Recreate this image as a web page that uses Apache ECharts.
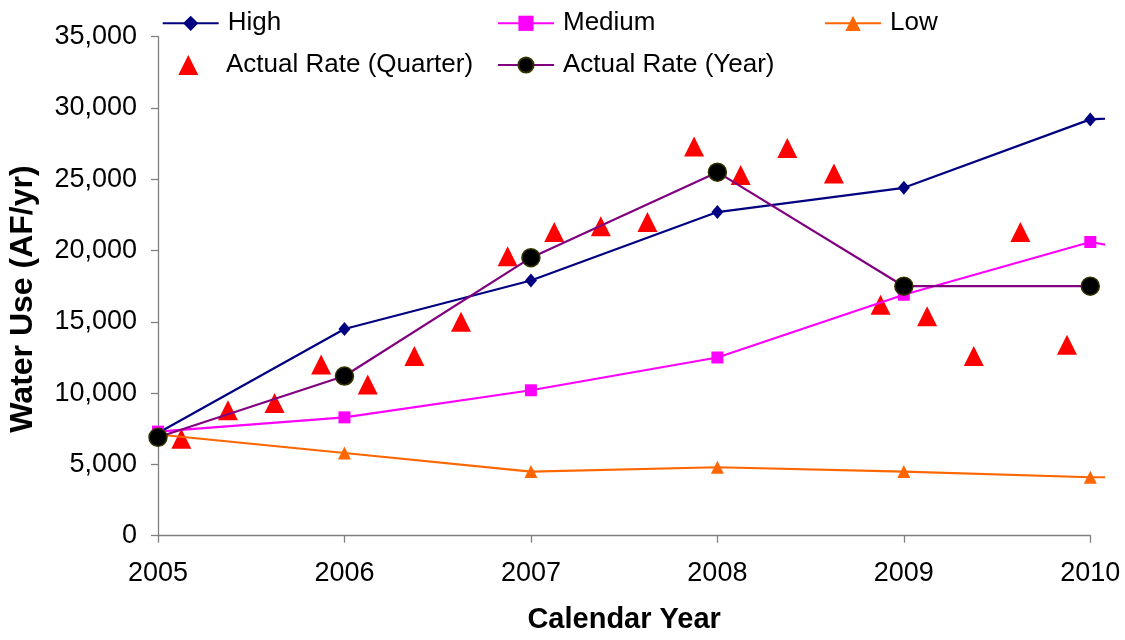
<!DOCTYPE html>
<html>
<head>
<meta charset="utf-8">
<script src="https://cdn.jsdelivr.net/npm/echarts@6/dist/echarts.min.js"></script>
<style>html,body{margin:0;padding:0;background:#fff;}#chart{width:1125px;height:640px;}</style>
</head>
<body>
<div id="chart"></div>
<script>
// ---- data ----
var years = [2005, 2006, 2007, 2008, 2009, 2010, 2011];
var high = [7200, 14500, 17900, 22700, 24400, 29200, 29900];
var medium = [7300, 8300, 10200, 12500, 16900, 20600, 18200];
var low = [7100, 5800, 4500, 4800, 4500, 4100, 4100];
var actualYearX = [2005, 2006, 2007, 2008, 2009, 2010];
var actualYear = [6900, 11200, 19500, 25500, 17500, 17500];
var quarterX = [2005.125, 2005.375, 2005.625, 2005.875,
                2006.125, 2006.375, 2006.625, 2006.875,
                2007.125, 2007.375, 2007.625, 2007.875,
                2008.125, 2008.375, 2008.625, 2008.875,
                2009.125, 2009.375, 2009.625, 2009.875];
var quarterVals = [6800, 8800, 9300, 12000,
                   10600, 12600, 15000, 19600,
                   21300, 21700, 22000, 27300,
                   25300, 27200, 25400, 16200,
                   15400, 12600, 21300, 13400];
var xTicks = [2005, 2006, 2007, 2008, 2009, 2010];
var yMin = 0, yMax = 35000, yStep = 5000;
var names = ['High', 'Medium', 'Low', 'Actual Rate (Quarter)', 'Actual Rate (Year)'];

function pairs(xs, ys) { return xs.map(function (x, i) { return [x, ys[i]]; }); }

var FONT = '"Liberation Sans", Arial, sans-serif';
var AXIS_COLOR = '#808080';
var plotLeft = 158, plotTop = 36.7, plotBottom = 640 - 535.7;
var axisRightPx = 1090.3, dataRightPx = 1103;
var extMax = xTicks[0] + (xTicks[xTicks.length - 1] - xTicks[0]) * (dataRightPx - plotLeft) / (axisRightPx - plotLeft);

var chart = echarts.init(document.getElementById('chart'), null, {renderer: 'canvas'});

function legendItem(name, left, top, iw, ih, padLeft) {
  return {
    data: [name], left: left, top: top, orient: 'horizontal', padding: 0,
    itemWidth: iw, itemHeight: ih, selectedMode: false, symbolKeepAspect: true,
    textStyle: {fontFamily: FONT, fontSize: 26, color: '#000', padding: [0, 0, 0, padLeft]}
  };
}

var option = {
  backgroundColor: '#fff',
  animation: false,
  legend: [
    legendItem(names[0], 161.7, 10.3, 56, 19, 4),
    legendItem(names[1], 497, 10.3, 56, 19, 4),
    legendItem(names[2], 824, 10.3, 56, 19, 4),
    legendItem(names[3], 178.3, 52, 20, 20, 22.7),
    legendItem(names[4], 497, 52, 56, 19, 4)
  ],
  grid: [
    {left: plotLeft, right: 1125 - dataRightPx, top: plotTop, bottom: plotBottom, containLabel: false},
    {left: plotLeft, right: 1125 - axisRightPx, top: plotTop, bottom: plotBottom, containLabel: false}
  ],
  xAxis: [
    {type: 'value', gridIndex: 0, min: xTicks[0], max: extMax, show: false},
    {type: 'value', gridIndex: 1, min: xTicks[0], max: xTicks[xTicks.length - 1], interval: 1,
     name: 'Calendar Year', nameLocation: 'middle', nameGap: 70,
     nameTextStyle: {fontFamily: FONT, fontSize: 29, fontWeight: 'bold', color: '#000'},
     axisLine: {show: true, lineStyle: {color: AXIS_COLOR, width: 1.3}},
     axisTick: {show: true, inside: false, length: 7, lineStyle: {color: AXIS_COLOR, width: 1.3}},
     axisLabel: {fontFamily: FONT, fontSize: 27, color: '#000', margin: 24,
                 formatter: function (v) { return String(v); }},
     splitLine: {show: false}}
  ],
  yAxis: [
    {type: 'value', gridIndex: 0, min: yMin, max: yMax, interval: yStep,
     axisLine: {show: true, lineStyle: {color: AXIS_COLOR, width: 1.3}},
     axisTick: {show: true, inside: false, length: 7, lineStyle: {color: AXIS_COLOR, width: 1.3}},
     axisLabel: {fontFamily: FONT, fontSize: 27, color: '#000', margin: 21,
                 formatter: function (v) { return String(v).replace(/\B(?=(\d{3})+(?!\d))/g, ','); }},
     splitLine: {show: false}},
    {type: 'value', gridIndex: 1, min: yMin, max: yMax, interval: yStep, show: false}
  ],
  graphic: [{
    type: 'text', x: 23, y: 299, rotation: Math.PI / 2,
    style: {text: 'Water Use (AF/yr)', align: 'center', verticalAlign: 'middle',
            font: 'bold 32px ' + FONT, fill: '#000'}
  }],
  series: [
    {name: names[0], type: 'line', xAxisIndex: 0, yAxisIndex: 0, data: pairs(years, high),
     symbol: 'diamond', symbolSize: [12, 14], clip: true,
     lineStyle: {color: '#000080', width: 2.2}, itemStyle: {color: '#000080'}},
    {name: names[1], type: 'line', xAxisIndex: 0, yAxisIndex: 0, data: pairs(years, medium),
     symbol: 'rect', symbolSize: 12, clip: true,
     lineStyle: {color: '#FF00FF', width: 2.2}, itemStyle: {color: '#FF00FF'}},
    {name: names[2], type: 'line', xAxisIndex: 0, yAxisIndex: 0, data: pairs(years, low),
     symbol: 'triangle', symbolSize: 13, clip: true,
     lineStyle: {color: '#FF6600', width: 2.2}, itemStyle: {color: '#FF6600'}},
    {name: names[3], type: 'scatter', xAxisIndex: 0, yAxisIndex: 0, data: pairs(quarterX, quarterVals),
     symbol: 'triangle', symbolSize: 20, itemStyle: {color: '#FF0000', opacity: 1}},
    {name: names[4], type: 'line', xAxisIndex: 0, yAxisIndex: 0, data: pairs(actualYearX, actualYear),
     symbol: 'circle', symbolSize: 18, clip: true,
     lineStyle: {color: '#800080', width: 2.2},
     itemStyle: {color: '#000000', borderColor: '#333300', borderWidth: 1.5}}
  ]
};
chart.setOption(option);
</script>
</body>
</html>
